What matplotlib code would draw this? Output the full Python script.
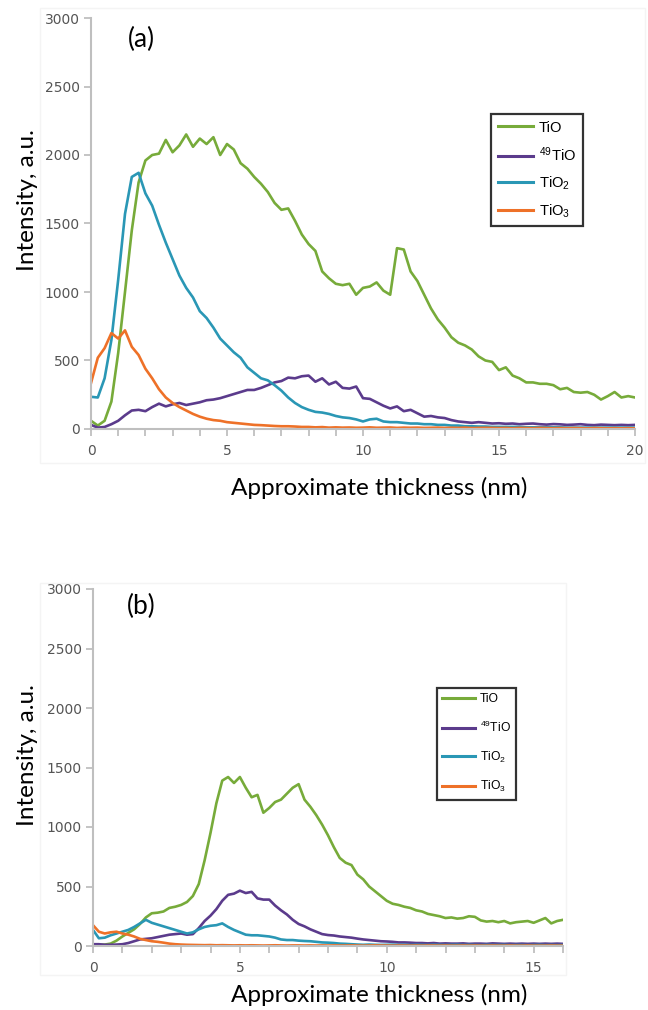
import numpy as np
import matplotlib
matplotlib.use("Agg")
import matplotlib.pyplot as plt
from matplotlib.patches import Rectangle

plt.rcParams['mathtext.fontset'] = 'custom'
plt.rcParams['mathtext.rm'] = 'Liberation Sans'
plt.rcParams['mathtext.it'] = 'Liberation Sans:italic'
plt.rcParams['mathtext.bf'] = 'Liberation Sans:bold'
plt.rcParams['mathtext.default'] = 'rm'

# ---- data: panel (a) ----
thickness_a = np.linspace(0, 20, 81)
tio_a = [60, 25, 60, 200, 555, 1000, 1450, 1800, 1960, 2000,
         2010, 2110, 2020, 2070, 2150, 2060, 2120, 2080, 2130, 2000,
         2080, 2040, 1940, 1900, 1840, 1790, 1730, 1650, 1600, 1610,
         1520, 1420, 1350, 1300, 1150, 1100, 1060, 1050, 1060, 980,
         1030, 1040, 1070, 1010, 980, 1320, 1310, 1150, 1080, 980,
         880, 800, 740, 670, 630, 610, 580, 530, 500, 490,
         430, 450, 390, 370, 340, 340, 330, 330, 320, 290,
         300, 270, 265, 270, 250, 215, 240, 270, 230, 240,
         230]
tio49_a = [30, 10, 15, 35, 60, 100, 135, 140, 130, 160,
           185, 165, 180, 190, 175, 185, 195, 210, 215, 225,
           240, 255, 270, 285, 285, 300, 320, 340, 350, 375,
           370, 385, 390, 345, 370, 325, 345, 300, 295, 310,
           225, 220, 195, 170, 150, 165, 130, 140, 115, 90,
           95, 85, 80, 65, 55, 50, 45, 50, 45, 40,
           42, 38, 40, 35, 38, 40, 35, 32, 36, 34,
           30, 32, 35, 30, 28, 32, 30, 28, 30, 28,
           30]
tio2_a = [235, 230, 370, 650, 1090, 1570, 1840, 1870, 1720, 1630,
          1490, 1360, 1240, 1120, 1030, 960, 860, 810, 740, 660,
          610, 560, 520, 450, 410, 370, 355, 320, 280, 230,
          190, 160, 140, 125, 120, 110, 95, 85, 80, 70,
          55, 70, 75, 55, 50, 50, 45, 40, 40, 35,
          35, 30, 30, 25, 25, 20, 20, 18, 18, 15,
          15, 15, 15, 15, 12, 12, 12, 12, 12, 12,
          10, 10, 10, 10, 10, 10, 10, 10, 10, 10,
          10]
tio3_a = [335, 520, 590, 700, 660, 720, 600, 540, 440, 370,
          290, 230, 190, 160, 135, 110, 90, 75, 65, 60,
          50, 45, 40, 35, 30, 28, 25, 22, 20, 20,
          18, 15, 15, 12, 14, 10, 12, 10, 11, 9,
          10, 12, 9, 10, 11, 8, 10, 9, 10, 8,
          9, 10, 8, 9, 8, 10, 7, 8, 9, 8,
          7, 8, 6, 8, 7, 6, 8, 7, 6, 7,
          6, 7, 6, 5, 7, 6, 5, 6, 5, 6,
          5]

# ---- data: panel (b) ----
thickness_b = np.linspace(0, 16, 81)
tio_b = [15, 10, 12, 20, 45, 80, 110, 140, 185, 240,
         275, 280, 290, 320, 330, 345, 370, 420, 520, 720,
         950, 1200, 1390, 1420, 1370, 1420, 1330, 1250, 1270, 1120,
         1160, 1210, 1230, 1280, 1330, 1360, 1230, 1170, 1100, 1020,
         930, 830, 740, 700, 680, 600, 560, 500, 460, 420,
         380, 355, 345, 330, 320, 300, 290, 270, 260, 250,
         235, 240, 230, 235, 250, 245, 215, 205, 210, 200,
         210, 190, 200, 205, 210, 195, 215, 235, 190, 210,
         220]
tio49_b = [15, 15, 10, 10, 12, 15, 25, 40, 55, 60,
           65, 75, 85, 95, 100, 105, 95, 100, 150, 210,
           255, 310, 380, 430, 440, 465, 445, 455, 400, 390,
           390, 340, 300, 265, 220, 185, 165, 140, 120, 100,
           92, 88, 80, 75, 70, 62, 55, 50, 45, 40,
           38, 35, 30, 30, 28, 25, 25, 22, 25, 20,
           22, 20, 20, 22, 18, 20, 20, 18, 22, 20,
           18, 20, 18, 20, 18, 20, 18, 20, 18, 20,
           18]
tio2_b = [135, 65, 70, 90, 105, 120, 135, 160, 190, 220,
          195, 180, 165, 150, 135, 120, 105, 115, 140, 160,
          170, 175, 190, 160, 135, 115, 95, 90, 90, 85,
          80, 70, 55, 50, 50, 45, 42, 40, 35, 30,
          28, 25, 20, 18, 15, 12, 10, 12, 10, 9,
          10, 11, 9, 10, 8, 10, 9, 8, 10, 9,
          8, 9, 10, 8, 9, 8, 7, 9, 8, 8,
          9, 7, 8, 8, 7, 8, 9, 7, 8, 7,
          8]
tio3_b = [175, 120, 105, 115, 120, 105, 95, 80, 60, 50,
          40, 35, 28, 20, 15, 12, 10, 9, 8, 7,
          8, 6, 7, 6, 5, 6, 5, 6, 5, 4,
          5, 6, 5, 4, 5, 5, 4, 5, 4, 5,
          4, 5, 4, 4, 5, 4, 3, 4, 5, 4,
          4, 3, 4, 4, 3, 4, 3, 4, 4, 3,
          4, 3, 3, 4, 3, 4, 3, 3, 4, 3,
          3, 4, 3, 3, 4, 3, 3, 3, 4, 3,
          3]

series_labels = ['TiO', r'$^{49}$TiO', r'TiO$_2$', r'TiO$_3$']
series_colors = ['#77AB3A', '#5B3B8C', '#2A97B5', '#EE7128']
y_ticks = [0, 500, 1000, 1500, 2000, 2500, 3000]

W, H = 648, 1010
fig = plt.figure(figsize=(W / 100, H / 100), dpi=100)

# faint chart-area frames
for (x0, y0, x1, y1) in [(40, 8, 645, 463), (40, 583, 566, 975)]:
    fig.patches.append(Rectangle((x0 / W, 1 - y1 / H), (x1 - x0) / W, (y1 - y0) / H,
                                 transform=fig.transFigure, fill=False,
                                 edgecolor='#F4F4F4', linewidth=1.0))

axes_px = [(91, 18, 635, 429), (93, 589, 563, 946)]
panels = [
    (thickness_a, [tio_a, tio49_a, tio2_a, tio3_a], 20, [0, 5, 10, 15, 20], '(a)', 39, 200),
    (thickness_b, [tio_b, tio49_b, tio2_b, tio3_b], 16, [0, 5, 10, 15], '(b)', 606, 755),
]
# legend: left px, top px, font size, handle length, label spacing, border pad
legend_cfg = [(491, 114, 10.6, 2.4, 0.72, 0.45), (437, 688, 8.7, 2.7, 1.2, 0.45)]

for (l, t, r, b), (xv, ys, xmax, xt, tag, tag_y, ylab_y), (lx, ly, lfs, hl, lsp, bpad) in zip(
        axes_px, panels, legend_cfg):
    ax = fig.add_axes([l / W, 1 - b / H, (r - l) / W, (b - t) / H])
    lines = []
    for y, c, lab in zip(ys, series_colors, series_labels):
        ln, = ax.plot(xv, y, color=c, linewidth=1.9, label=lab, solid_joinstyle='round')
        lines.append(ln)
    ax.set_xlim(0, xmax)
    ax.set_ylim(0, 3000)
    ax.set_yticks(y_ticks)
    ax.set_xticks(xt)
    ax.set_xticks(np.arange(0, xmax + 1, 1), minor=True)
    for s in ['top', 'right']:
        ax.spines[s].set_visible(False)
    for s in ['left', 'bottom']:
        ax.spines[s].set_color('#BFBFBF')
        ax.spines[s].set_linewidth(1.5)
    ax.tick_params(which='both', color='#BFBFBF', width=1.3, length=5,
                   labelcolor='#555555', labelsize=10)
    ax.tick_params(axis='x', pad=6)
    ax.tick_params(axis='y', pad=3)
    ax.set_facecolor('none')
    ax.text((141 - l) / (r - l), 1 - (tag_y - t) / (b - t), tag,
            transform=ax.transAxes, fontsize=19, family='Lato', ha='center', va='center')

    leg = ax.legend(handles=lines, loc='upper left',
                    bbox_to_anchor=(lx / W, 1 - ly / H), bbox_transform=fig.transFigure,
                    fancybox=False, frameon=True, edgecolor='black', fontsize=lfs,
                    handlelength=hl, handletextpad=0.4, labelspacing=lsp,
                    borderpad=bpad, borderaxespad=0)
    leg.get_frame().set_linewidth(1.6)
    for h in leg.legend_handles:
        h.set_linewidth(2.2)
    for txt in leg.get_texts():
        txt.set_family('Liberation Sans')

    fig.text(28 / W, 1 - ylab_y / H, 'Intensity, a.u.', rotation=90,
             fontsize=17.5, family='Lato', ha='center', va='center')

fig.text(379 / W, 1 - 488 / H, 'Approximate thickness (nm)', fontsize=17.5,
         family='Lato', ha='center', va='center')
fig.text(379 / W, 1 - 995 / H, 'Approximate thickness (nm)', fontsize=17.5,
         family='Lato', ha='center', va='center')

fig.savefig('out.png', dpi=100, facecolor='white')
